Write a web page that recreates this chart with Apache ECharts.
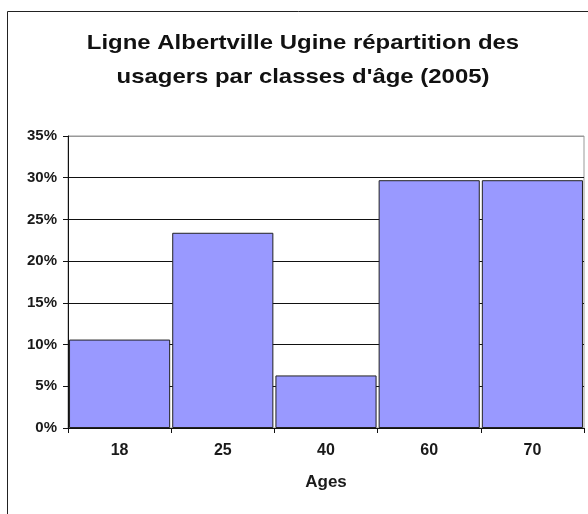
<!DOCTYPE html>
<html>
<head>
<meta charset="utf-8">
<script src="https://cdn.jsdelivr.net/npm/echarts@6/dist/echarts.min.js"></script>
<style>
  html, body { margin: 0; padding: 0; background: #ffffff; }
  #chart { width: 588px; height: 514px; }
</style>
</head>
<body>
<div id="chart"></div>
<script>
// Chart text
const titleLine1 = 'Ligne Albertville Ugine répartition des';
const titleLine2 = "usagers par classes d'âge (2005)";
const xAxisName = 'Ages';

// Age classes and share of passengers in each
const ageClasses = ['18', '25', '40', '60', '70'];
const passengerShare = [0.106, 0.234, 0.063, 0.297, 0.297];

// Value axis range
const yMin = 0;
const yMax = 0.35;
const yStep = 0.05;

const chart = echarts.init(document.getElementById('chart'), null, { renderer: 'canvas' });

const labelFont = '"Liberation Sans", Arial, sans-serif';

chart.setOption({
  animation: false,
  backgroundColor: '#ffffff',
  grid: { left: 68, right: 4, top: 136, bottom: 86, show: true, borderColor: '#999999', borderWidth: 1, backgroundColor: 'transparent' },
  graphic: [
    {
      type: 'rect', silent: true, z: -1,
      shape: { x: 7.5, y: 11.5, width: 640, height: 560 },
      style: { fill: 'none', stroke: '#222222', lineWidth: 1 }
    },
    {
      type: 'text', x: 303, y: 43, scaleX: 1.14,
      style: { text: titleLine1, font: 'bold 21px "Liberation Sans", Arial, sans-serif', fill: '#111111', align: 'center', verticalAlign: 'middle' }
    },
    {
      type: 'text', x: 303, y: 77, scaleX: 1.14,
      style: { text: titleLine2, font: 'bold 21px "Liberation Sans", Arial, sans-serif', fill: '#111111', align: 'center', verticalAlign: 'middle' }
    }
  ],
  xAxis: {
    type: 'category',
    data: ageClasses,
    boundaryGap: true,
    name: xAxisName,
    nameLocation: 'middle',
    nameGap: 46,
    nameTextStyle: { fontFamily: labelFont, fontWeight: 'bold', fontSize: 17, color: '#1a1a1a' },
    axisLine: { lineStyle: { color: '#111111', width: 1 } },
    axisTick: { show: true, length: 5, inside: false, lineStyle: { color: '#111111' } },
    axisLabel: { fontFamily: labelFont, fontWeight: 'bold', fontSize: 16, color: '#1a1a1a', margin: 15 },
    splitLine: { show: false }
  },
  yAxis: {
    type: 'value',
    min: yMin,
    max: yMax,
    interval: yStep,
    axisLine: { show: true, lineStyle: { color: '#111111', width: 1 } },
    axisTick: { show: true, length: 5, inside: false, lineStyle: { color: '#111111' } },
    axisLabel: {
      fontFamily: labelFont, fontWeight: 'bold', fontSize: 15, color: '#1a1a1a', margin: 11,
      formatter: v => Math.round(v * 100) + '%'
    },
    splitLine: {
      show: true,
      lineStyle: { color: ['#111111', '#111111', '#111111', '#111111', '#111111', '#111111', '#111111', '#999999'], width: 1 }
    }
  },
  series: [{
    type: 'bar',
    data: passengerShare,
    barCategoryGap: '2%',
    itemStyle: { color: '#9999ff', borderColor: '#222222', borderWidth: 1 },
    emphasis: { disabled: true }
  }]
});
</script>
</body>
</html>
